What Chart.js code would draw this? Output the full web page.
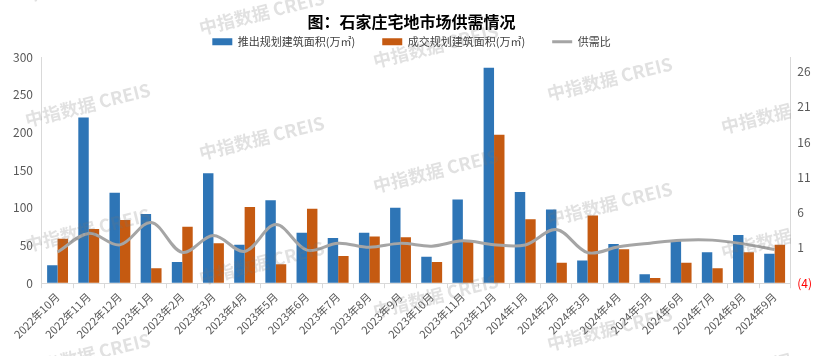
<!DOCTYPE html>
<html>
<head>
<meta charset="utf-8">
<script src="https://cdn.jsdelivr.net/npm/chart.js@4.4.1/dist/chart.umd.min.js"></script>
<style>
  html, body { margin: 0; padding: 0; background: #ffffff; }
  #wrap { width: 821px; height: 356px; position: relative; }
</style>
</head>
<body>
<div id="wrap"><canvas id="c"></canvas></div>
<script>
const categories = ["2022年10月","2022年11月","2022年12月","2023年1月","2023年2月","2023年3月","2023年4月","2023年5月","2023年6月","2023年7月","2023年8月","2023年9月","2023年10月","2023年11月","2023年12月","2024年1月","2024年2月","2024年3月","2024年4月","2024年5月","2024年6月","2024年7月","2024年8月","2024年9月"];
const supplyArea = [24, 220, 120, 92, 28, 146, 51, 110, 67, 60, 67, 100, 35, 111, 286, 121, 98, 30, 52, 12, 56, 41, 64, 39];
const dealArea = [59, 72, 84, 20, 75, 53, 101, 25, 99, 36, 62, 61, 28, 55, 197, 85, 27, 90, 45, 7, 27, 20, 41, 51];
const ratio = [0.41, 3.05, 1.43, 4.6, 0.37, 2.75, 0.5, 4.3, 0.68, 1.67, 1.09, 1.64, 1.25, 2.0, 1.45, 1.42, 3.6, 0.33, 1.15, 1.67, 2.09, 2.1, 1.57, 0.77];
const rightTicks = [-4, 1, 6, 11, 16, 21, 26];
const seriesNames = ["推出规划建筑面积(万㎡)", "成交规划建筑面积(万㎡)", "供需比"];
const titleText = "图：石家庄宅地市场供需情况";
const watermarkText = "中指数据 CREIS";

const FONT = "'Noto Sans CJK SC', 'Noto Sans', sans-serif";

const watermarkPlugin = {
  id: 'watermark',
  afterDraw(chart) {
    const ctx = chart.ctx;
    ctx.save();
    ctx.beginPath();
    ctx.rect(0, 0, 791, 356);
    ctx.clip();
    ctx.font = "bold 18px " + FONT;
    ctx.fillStyle = "rgba(120,120,120,0.22)";
    ctx.textBaseline = "alphabetic";
    for (let col = 0; col < 5; col++) {
      for (let row = -1; row <= 2; row++) {
        const x = 27 + 174 * col;
        const y = 127 + 33 * col + 125 * row;
        if (y < -10 || y > 400) continue;
        ctx.save();
        ctx.translate(x, y);
        ctx.rotate(-14 * Math.PI / 180);
        ctx.fillText(watermarkText, 0, 0);
        ctx.restore();
      }
    }
    ctx.restore();
  }
};

new Chart(document.getElementById('c'), {
  data: {
    labels: categories,
    datasets: [
      { type: 'bar', label: seriesNames[0], data: supplyArea, backgroundColor: '#2E75B6', yAxisID: 'y', categoryPercentage: 0.67, barPercentage: 1.0, order: 1 },
      { type: 'bar', label: seriesNames[1], data: dealArea, backgroundColor: '#C55A11', yAxisID: 'y', categoryPercentage: 0.67, barPercentage: 1.0, order: 1 },
      { type: 'line', label: seriesNames[2], data: ratio, borderColor: '#A5A5A5', backgroundColor: '#A5A5A5', borderWidth: 3, pointRadius: 0, tension: 0.35, yAxisID: 'y1', order: -1 }
    ]
  },
  options: {
    responsive: true,
    maintainAspectRatio: false,
    animation: false,
    layout: { padding: { left: 4, right: 2, top: 0, bottom: 13 } },
    plugins: {
      title: {
        display: true, text: titleText, color: '#000000',
        font: { family: FONT, size: 16, weight: 'bold' },
        padding: { top: 12, bottom: 0 }
      },
      legend: {
        display: true,
        labels: {
          font: { family: FONT, size: 11 }, color: '#404040',
          usePointStyle: true, pointStyleWidth: 20, boxHeight: 7, padding: 5,
          sort: (a, b) => a.datasetIndex - b.datasetIndex,
          generateLabels(chart) {
            return chart.data.datasets.map((ds, i) => ({
              text: ds.label + (i < 2 ? '\u2003\u2003' : ''),
              fillStyle: ds.type === 'line' ? 'rgba(0,0,0,0)' : ds.backgroundColor,
              strokeStyle: ds.type === 'line' ? ds.borderColor : ds.backgroundColor,
              lineWidth: ds.type === 'line' ? 3 : 0,
              pointStyle: ds.type === 'line' ? 'line' : 'rect',
              fontColor: '#404040',
              hidden: false,
              datasetIndex: i
            }));
          }
        }
      },
      tooltip: { enabled: false }
    },
    scales: {
      x: {
        grid: { display: true, drawOnChartArea: false, drawTicks: true, tickLength: 5, color: '#D9D9D9', offset: true },
        border: { display: true, color: '#D9D9D9' },
        ticks: { font: { family: FONT, size: 11 }, color: '#595959', minRotation: 45, maxRotation: 45, autoSkip: false, padding: 2 }
      },
      y: {
        position: 'left', min: 0, max: 300,
        grid: { drawOnChartArea: false, drawTicks: false },
        border: { display: true, color: '#D9D9D9' },
        ticks: { stepSize: 50, font: { family: FONT, size: 12 }, color: '#595959', padding: 9 }
      },
      y1: {
        position: 'right', min: -4, max: 28,
        grid: { drawOnChartArea: false, drawTicks: false },
        border: { display: true, color: '#D9D9D9' },
        afterBuildTicks(scale) { scale.ticks = rightTicks.map(v => ({ value: v })); },
        ticks: {
          font: { family: FONT, size: 12 },
          color: (ctx) => (ctx.tick && ctx.tick.value < 0) ? '#FF0000' : '#595959',
          padding: 7,
          callback: (v) => v < 0 ? '(' + (-v) + ')' : String(v)
        }
      }
    }
  },
  plugins: [watermarkPlugin]
});
</script>
</body>
</html>
